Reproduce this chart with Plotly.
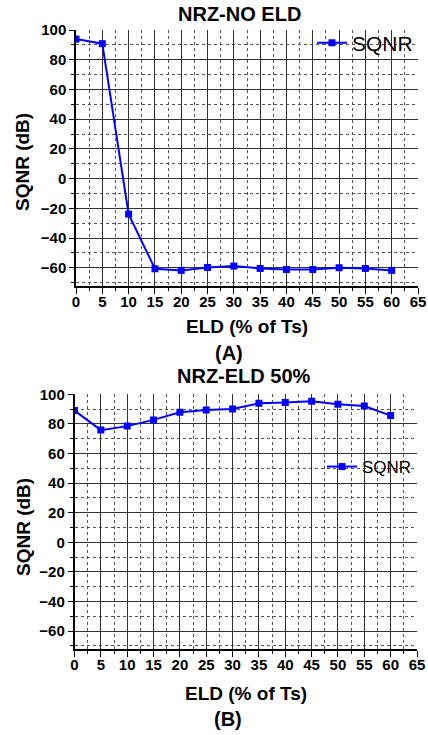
import plotly.graph_objects as go

# ---- data ----
eld = [0, 5, 10, 15, 20, 25, 30, 35, 40, 45, 50, 55, 60]
sqnr_no_eld = [93.9, 90.8, -23.9, -60.7, -61.8, -59.8, -58.9, -60.5, -61.2, -61.2, -60.0, -60.5, -61.8]
sqnr_eld50 = [89.0, 75.8, 78.5, 82.7, 87.9, 89.4, 90.1, 93.9, 94.4, 95.3, 93.3, 92.1, 85.6]
x_ticks = list(range(0, 70, 5))
y_ticks = list(range(-60, 120, 20))
titles = ["NRZ-NO ELD", "NRZ-ELD 50%"]
panel_labels = ["(A)", "(B)"]
x_title = "ELD (% of Ts)"
y_title = "SQNR (dB)"
series_name = "SQNR"

W, H = 428, 735
def px(x): return x / W
def py(y): return 1 - y / H

FONT = "Liberation Sans"
BLUE = "#0000FF"

fig = go.Figure()
fig.add_trace(go.Scatter(x=eld, y=sqnr_no_eld, mode="lines+markers", name=series_name,
                         line=dict(color=BLUE, width=2), marker=dict(symbol="square", size=7, color=BLUE),
                         xaxis="x", yaxis="y", legend="legend", showlegend=True))
fig.add_trace(go.Scatter(x=eld, y=sqnr_eld50, mode="lines+markers", name=series_name,
                         line=dict(color=BLUE, width=2), marker=dict(symbol="square", size=7, color=BLUE),
                         xaxis="x2", yaxis="y2", legend="legend2", showlegend=True))

def xax(domain, anchor):
    return dict(domain=domain, anchor=anchor, range=[0, 65], tickvals=x_ticks,
                showline=True, linecolor="black", linewidth=1.5,
                ticks="outside", ticklen=6, tickcolor="black", ticklabelstandoff=-5,
                tickfont=dict(family=FONT, size=15, color="black", weight="bold"),
                showgrid=True, gridcolor="#333", gridwidth=1, zeroline=False,
                minor=dict(dtick=2.5, tick0=0, showgrid=True, gridcolor="#555", griddash="dot",
                           ticks="outside", ticklen=3, tickcolor="black"))

def yax(domain, anchor):
    return dict(domain=domain, anchor=anchor, range=[-72.3, 100], tickvals=y_ticks,
                showline=True, linecolor="black", linewidth=1.5,
                ticks="outside", ticklen=5, tickcolor="black",
                tickfont=dict(family=FONT, size=15, color="black", weight="bold"),
                showgrid=True, gridcolor="#333", gridwidth=1, zeroline=False,
                minor=dict(dtick=10, tick0=0, showgrid=True, gridcolor="#555", griddash="dot",
                           ticks="outside", ticklen=3, tickcolor="black"))

fig.update_layout(
    width=W, height=H, margin=dict(l=0, r=0, t=0, b=0, autoexpand=False),
    paper_bgcolor="white", plot_bgcolor="white", showlegend=True,
    xaxis=xax([px(76), px(418)], "y"),
    yaxis=yax([py(286), py(30)], "x"),
    xaxis2=xax([px(74.5), px(417)], "y2"),
    yaxis2=yax([py(649.3), py(394.3)], "x2"),
    legend=dict(x=px(312), y=py(43), xanchor="left", yanchor="middle", bgcolor="rgba(0,0,0,0)",
                font=dict(family=FONT, size=21, color="black")),
    legend2=dict(x=px(322), y=py(467), xanchor="left", yanchor="middle", bgcolor="rgba(0,0,0,0)",
                 font=dict(family=FONT, size=17, color="black")),
)

def ann(text, x, y, size, angle=0):
    fig.add_annotation(text=text, x=px(x), y=py(y), xref="paper", yref="paper",
                       xanchor="center", yanchor="middle", showarrow=False, textangle=angle,
                       font=dict(family=FONT, size=size, color="black", weight="bold"))

ann(titles[0], 239, 14, 20)
ann(titles[1], 244, 376, 20)
ann(x_title, 247, 326, 19)
ann(x_title, 246, 693, 19)
ann(panel_labels[0], 229, 353, 20)
ann(panel_labels[1], 228, 719, 20)
ann(y_title, 23, 162, 19, -90)
ann(y_title, 23, 527, 19, -90)

# remove the default 8px body margin so the figure fills the 428x735 window
fig.write_html("out.html", config={"displayModeBar": False},
               post_script="document.body.style.margin='0px';")
